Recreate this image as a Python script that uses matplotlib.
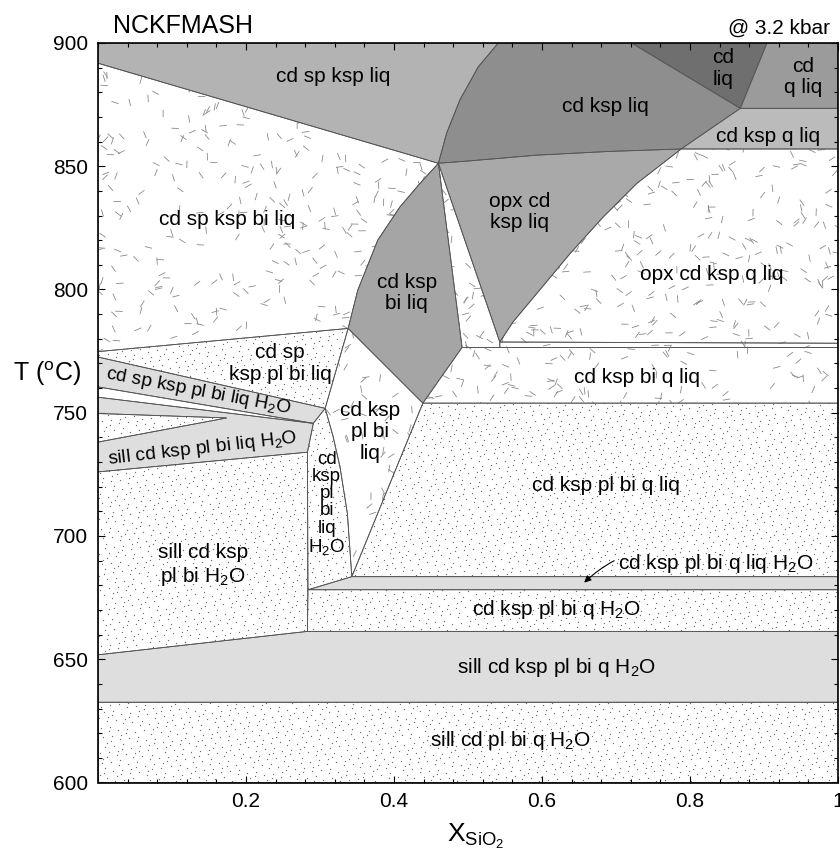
import numpy as np
import matplotlib
matplotlib.use("Agg")
import matplotlib.pyplot as plt
from matplotlib.patches import Polygon, PathPatch
from matplotlib.path import Path
from matplotlib.collections import LineCollection
from matplotlib.ticker import MultipleLocator

plt.rcParams['font.family'] = ['Liberation Sans', 'DejaVu Sans']
plt.rcParams['mathtext.fontset'] = 'custom'
plt.rcParams['mathtext.rm'] = 'Liberation Sans'
plt.rcParams['mathtext.it'] = 'Liberation Sans:italic'
plt.rcParams['mathtext.default'] = 'regular'

# -------------------------------
# BOUNDARIES (X_SiO2, T in C)
# -------------------------------
TP = (0.460, 851.2)  # upper invariant point

curve_a = [TP, (0.471, 863.3), (0.489, 876.9), (0.514, 890.4), (0.541, 900)]       # cd sp ksp liq | cd ksp liq
curve_b = [TP, (0.503, 852.2), (0.593, 854.5), (0.690, 856.0), (0.788, 857.0)]      # cd ksp liq | opx cd ksp liq
curve_c = [(0.788, 857.0), (0.728, 843.0), (0.683, 829.5), (0.638, 814.6),
           (0.593, 798.4), (0.561, 786.9), (0.543, 778.7)]                          # opx cd ksp liq | opx cd ksp q liq
curve_d = [TP, (0.435, 843.0), (0.408, 833.5), (0.378, 820.0), (0.351, 799.7), (0.338, 784.2)]  # cd ksp bi liq left
curve_e = [(0.307, 751.8), (0.318, 740.0), (0.327, 728.0), (0.337, 709.1), (0.343, 683.5)]     # narrow H2O field right

left_y = [891.8, 774.8, 772.6, 760.5, 756.3, 749.7, 738.1, 726.0, 651.8]  # boundaries meeting the left axis
cd_liq_x = [0.721, 0.904]
q_liq_y = [873.5, 857.0]
bi_q_y = [753.9, 776.5, 778.2]
h2o_band_y = [678.2, 683.5]
sill_band_y = [632.6, 661.3]

# -------------------------------
# FIELDS
# -------------------------------
gray_fields = [
    ([(0, 900), (0.541, 900)] + curve_a[::-1] + [(0, left_y[0])], '#b3b3b3'),
    ([(0.541, 900), (cd_liq_x[0], 900), (0.868, q_liq_y[0]), (0.788, q_liq_y[1])]
     + curve_b[::-1][1:] + curve_a[1:-1], '#8e8e8e'),
    ([(cd_liq_x[0], 900), (cd_liq_x[1], 900), (0.868, q_liq_y[0])], '#6f6f6f'),
    ([(cd_liq_x[1], 900), (1, 900), (1, q_liq_y[0]), (0.868, q_liq_y[0])], '#9b9b9b'),
    ([(0.868, q_liq_y[0]), (1, q_liq_y[0]), (1, q_liq_y[1]), (0.788, q_liq_y[1])], '#bbbbbb'),
    (curve_b + curve_c[1:], '#a9a9a9'),
    ([TP, (0.492, bi_q_y[1]), (0.439, bi_q_y[0])] + curve_d[::-1][:-1], '#a5a5a5'),
    ([(0, left_y[2]), (0.307, 751.8), (0.291, 745.7), (0, left_y[3])], '#dedede'),
    ([(0, left_y[4]), (0.291, 745.7), (0.283, 734.0), (0, left_y[7]), (0, left_y[6]),
      (0.174, 747.9), (0, left_y[5])], '#dedede'),
    ([(0.284, h2o_band_y[0]), (0.343, h2o_band_y[1]), (1, h2o_band_y[1]), (1, h2o_band_y[0])], '#dedede'),
    ([(0, left_y[8]), (0.283, sill_band_y[1]), (1, sill_band_y[1]), (1, sill_band_y[0]), (0, sill_band_y[0])], '#dedede'),
]

dash_fields = [
    [(0, left_y[0]), TP] + curve_d[1:] + [(0, left_y[1])],
    [TP, (0.492, bi_q_y[1]), (0.543, bi_q_y[1]), (0.543, 778.7)],
    curve_c[::-1] + [(1, q_liq_y[1]), (1, bi_q_y[2])],
    [(0.439, bi_q_y[0]), (0.492, bi_q_y[1]), (0.543, bi_q_y[1]), (1, bi_q_y[1]), (1, bi_q_y[0])],
    [(0.543, bi_q_y[1]), (1, bi_q_y[1]), (1, bi_q_y[2]), (0.543, 778.7)],
    [(0.338, 784.2), (0.439, bi_q_y[0]), (0.343, h2o_band_y[1])] + curve_e[::-1][1:],
]

dot_fields = [
    [(0, left_y[1]), (0.338, 784.2), (0.307, 751.8), (0, left_y[2])],
    [(0, left_y[5]), (0.174, 747.9), (0, left_y[6])],
    curve_e + [(0.284, h2o_band_y[0]), (0.283, 734.0), (0.291, 745.7)],
    [(0, left_y[7]), (0.283, 734.0), (0.283, sill_band_y[1]), (0, left_y[8])],
    [(0.439, bi_q_y[0]), (1, bi_q_y[0]), (1, h2o_band_y[1]), (0.343, h2o_band_y[1])],
    [(0.284, h2o_band_y[0]), (1, h2o_band_y[0]), (1, sill_band_y[1]), (0.283, sill_band_y[1])],
    [(0, 600), (1, 600), (1, sill_band_y[0]), (0, sill_band_y[0])],
]

white_fields = [
    [(0, left_y[3]), (0.291, 745.7), (0, left_y[4])],
]

# -------------------------------
# LABELS
# -------------------------------
label_text = ['cd sp ksp liq', 'cd ksp liq', 'cd\nliq', 'cd\nq liq', 'cd ksp q liq',
              'opx cd\nksp liq', 'cd sp ksp bi liq', 'cd ksp\nbi liq', 'opx cd ksp q liq',
              'cd sp\nksp pl bi liq', 'cd sp ksp pl bi liq H$_2$O', 'sill cd ksp pl bi liq H$_2$O',
              'cd ksp\npl bi\nliq', 'sill cd ksp\npl bi H$_2$O', 'cd ksp bi q liq',
              'cd ksp pl bi q liq', 'cd ksp pl bi q H$_2$O', 'sill cd ksp pl bi q H$_2$O',
              'sill cd pl bi q H$_2$O']
label_x = [0.318, 0.685, 0.845, 0.953, 0.906, 0.570, 0.174, 0.417, 0.829, 0.246,
           0.136, 0.142, 0.368, 0.142, 0.728, 0.687, 0.619, 0.619, 0.557]
label_y = [886.3, 874.4, 889.7, 886.3, 862.0, 831.5, 828.6, 798.6, 806.2, 770.0,
           758.5, 735.5, 742.2, 688.1, 764.3, 720.3, 670.0, 646.7, 617.0]
label_rot = [0, 0, 0, 0, 0, 0, 0, 0, 0, 0, -10.8, 6.5, 0, 0, 0, 0, 0, 0, 0]
label_size = [15, 15, 15, 15, 15, 15, 15, 15, 15, 15, 13.8, 13.8, 15, 15, 15, 15, 15, 15, 15]

narrow_label = 'cd\nksp\npl\nbi\nliq\nH$_2$O'
narrow_xy = (0.309, 713.1)
arrow_label = 'cd ksp pl bi q liq H$_2$O'
arrow_from = (0.703, 688.9)
arrow_to = (0.657, 681.1)


def poly_path(polys):
    paths = []
    for p in polys:
        v = np.vstack([np.array(p, float), np.array(p[:1], float)])
        codes = [Path.MOVETO] + [Path.LINETO] * (len(p) - 1) + [Path.CLOSEPOLY]
        paths.append(Path(v, codes))
    return Path.make_compound_path(*paths)


def r2_seq(n):
    # low-discrepancy points, only used for the stipple texture
    g = 1.32471795724474602596
    i = np.arange(1, n + 1)[:, None]
    return (0.5 + np.array([1 / g, 1 / g ** 2]) * i) % 1.0


def hash01(n, k):
    # shader-style hash, only used for the dash texture
    i = np.arange(1, n + 1)
    return np.abs(np.sin(i * k) * 43758.5453) % 1.0


fig = plt.figure(figsize=(8.4, 8.5), dpi=100)
ax = fig.add_axes([98 / 840, 1 - 782.5 / 850, 740 / 840, 739.5 / 850])
ax.set_xlim(0, 1)
ax.set_ylim(600, 900)

for p, c in gray_fields:
    ax.add_patch(Polygon(p, closed=True, facecolor=c, edgecolor='none', zorder=1))

# dash texture
dash_clip = PathPatch(poly_path(dash_fields), transform=ax.transData, facecolor='none', edgecolor='none')
ax.add_patch(dash_clip)
nd = 2300
ux, uy, ang = hash01(nd, 12.9898), hash01(nd, 78.233), hash01(nd, 37.719) * np.pi
h = 0.0050
segs = np.stack([np.column_stack([ux - h * np.cos(ang), uy - h * np.sin(ang)]),
                 np.column_stack([ux + h * np.cos(ang), uy + h * np.sin(ang)])], axis=1)
lc = LineCollection(segs, colors='#8a8a8a', linewidths=0.6, transform=ax.transAxes, zorder=2)
ax.add_collection(lc)
lc.set_clip_path(dash_clip)

# dot texture
dot_clip = PathPatch(poly_path(dot_fields), transform=ax.transData, facecolor='none', edgecolor='none')
ax.add_patch(dot_clip)
d = r2_seq(12000)
sc = ax.scatter(d[:, 0], d[:, 1], s=0.9, c='#6e6e6e', marker='o', linewidths=0,
                transform=ax.transAxes, zorder=2)
sc.set_clip_path(dot_clip)

# field edges
for p in [g[0] for g in gray_fields] + dash_fields + dot_fields + white_fields:
    ax.add_patch(Polygon(p, closed=True, fill=False, edgecolor='#555555', linewidth=0.6, zorder=3))

for t, x, y, r, fs in zip(label_text, label_x, label_y, label_rot, label_size):
    ax.text(x, y, t, ha='center', va='center', rotation=r, fontsize=fs,
            linespacing=1.15, rotation_mode='anchor', zorder=5)
ax.text(narrow_xy[0], narrow_xy[1], narrow_label, ha='center', va='center', fontsize=13.5,
        linespacing=1.02, zorder=5)
ax.annotate(arrow_label, xy=arrow_to, xytext=arrow_from, ha='left', va='center', fontsize=15,
            arrowprops=dict(arrowstyle='-|>', color='k', lw=0.8, mutation_scale=10,
                            connectionstyle='arc3,rad=0.35', shrinkA=1, shrinkB=0), zorder=5)

# axes styling
ax.set_xticks([0.2, 0.4, 0.6, 0.8, 1.0])
ax.set_xticklabels(['0.2', '0.4', '0.6', '0.8', '1'])
ax.set_yticks([600, 650, 700, 750, 800, 850, 900])
ax.xaxis.set_minor_locator(MultipleLocator(0.04))
ax.yaxis.set_minor_locator(MultipleLocator(10))
ax.tick_params(which='both', direction='in', top=True, right=True, labelsize=15, width=0.8)
ax.tick_params(which='major', length=5, pad=7)
ax.tick_params(which='minor', length=3)
for sp in ax.spines.values():
    sp.set_linewidth(1.2)
    sp.set_zorder(6)

ax.text(0.02, 1.013, 'NCKFMASH', transform=ax.transAxes, fontsize=18, va='baseline')
ax.text(0.989, 1.013, '@ 3.2 kbar', transform=ax.transAxes, fontsize=15, ha='right', va='baseline')
ax.text(-0.069, 766, 'T ($^{o}$C)', transform=ax.get_yaxis_transform(), ha='center', va='center', fontsize=18)
ax.text(0.4716, -0.0805, r'X$_{SiO_2}$', transform=ax.transAxes, ha='left', va='baseline', fontsize=19)

fig.savefig('out.png', dpi=100, facecolor='white')
